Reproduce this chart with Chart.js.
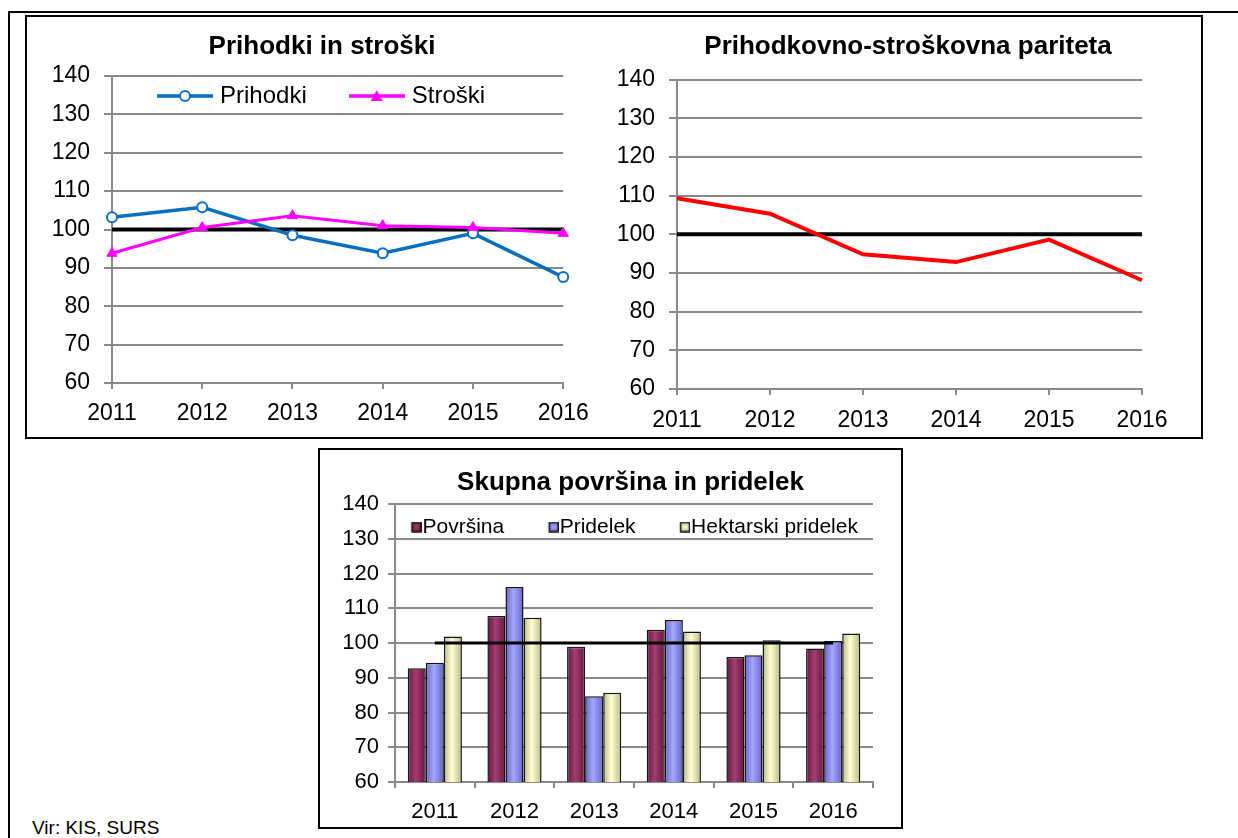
<!DOCTYPE html>
<html>
<head>
<meta charset="utf-8">
<title>Prihodki, stroški, površina in pridelek</title>
<script src="https://cdn.jsdelivr.net/npm/chart.js@4.4.1/dist/chart.umd.min.js"></script>
<style>
  html, body { margin: 0; padding: 0; background: #fff; }
  body { position: relative; width: 1238px; height: 838px; overflow: hidden;
         font-family: 'Liberation Sans', Arial, sans-serif; }
  .rule { position: absolute; background: #000; }
  .box { position: absolute; border: 2px solid #000; box-sizing: border-box; }
  canvas { position: absolute; }
  #source { position: absolute; left: 32px; top: 817px; font-size: 19px; line-height: 22px; color: #000; }
</style>
</head>
<body>
<div class="rule" style="left:8px;top:11px;width:1230px;height:2px"></div>
<div class="rule" style="left:8px;top:11px;width:2px;height:827px"></div>
<div class="box" style="left:25px;top:15px;width:1178px;height:424px"></div>
<div class="box" style="left:318px;top:448px;width:585px;height:381px"></div>

<canvas id="incomeCosts" width="574" height="422" style="left:26px;top:17px;width:574px;height:422px"></canvas>
<canvas id="parity" width="598" height="429" style="left:602px;top:17px;width:598px;height:429px"></canvas>
<canvas id="areaYield" width="581" height="385" style="left:320px;top:450px;width:581px;height:385px"></canvas>

<div id="source">Vir: KIS, SURS</div>

<script>
// ── data (indeksi, prejšnje leto = 100) ─────────────────
const years = ['2011', '2012', '2013', '2014', '2015', '2016'];
const baseline = [100, 100, 100, 100, 100, 100];

const prihodki = [103.2, 105.8, 98.5, 93.8, 99.0, 87.6];
const stroski = [93.8, 100.5, 103.6, 101.0, 100.5, 99.0];
const pariteta = [109.3, 105.3, 94.8, 92.8, 98.6, 88.1];

const povrsina = [92.7, 107.8, 98.9, 103.8, 96.0, 98.4];
const pridelek = [94.3, 116.1, 84.7, 106.6, 96.5, 100.6];
const hektarski = [101.9, 107.3, 85.7, 103.3, 100.8, 102.7];

const yMin = 60;
const yMax = 140;
const yStep = 10;

// ── shared look ─────────────────────────────────────────
Chart.defaults.font.family = "'Liberation Sans', Arial, sans-serif";
Chart.defaults.color = '#000';
Chart.defaults.animation = false;
Chart.defaults.events = [];
Chart.defaults.plugins.tooltip.enabled = false;

const GRID = '#8a8a8a';
const BLUE = '#0b6fbf';
const PINK = '#ff00ff';

function yAxis(fontSize, tick, pad, width) {
  return {
    min: yMin,
    max: yMax,
    ticks: { stepSize: yStep, font: { size: fontSize }, padding: pad },
    grid: { color: GRID, lineWidth: 2, tickLength: tick },
    border: { color: GRID, width: 2 },
    afterFit(scale) { scale.width = width; },
  };
}

function xAxis(fontSize, pad, extra) {
  return Object.assign({
    grid: { drawOnChartArea: false, color: GRID, lineWidth: 2, tickLength: 6 },
    border: { color: GRID, width: 2 },
    ticks: { font: { size: fontSize }, padding: pad, maxRotation: 0, autoSkip: false },
  }, extra || {});
}

function title(text, top, bottom) {
  return {
    display: true,
    text,
    font: { size: 26, weight: 'bold' },
    padding: { top, bottom },
  };
}

/**
 * Excel puts the title over the plot (not the canvas) and the legend
 * inside the plot area; nudge Chart.js' boxes there after layout.
 */
function placeBoxes(pos) {
  return {
    id: 'placeBoxes',
    afterLayout(chart) {
      const t = chart.titleBlock;
      if (t && pos.titleX !== undefined) {
        const dx = pos.titleX - (t.left + t.right) / 2;
        t.left += dx;
        t.right += dx;
      }
      const lg = chart.legend;
      if (lg && lg.lineWidths && pos.legendX !== undefined) {
        const pad = lg.options.labels.padding;
        const start = (lg.left + pad + lg.right - lg.lineWidths[0]) / 2;
        const dx = pos.legendX - start;
        lg.left += dx;
        lg.right += dx;
        lg.top = pos.legendY - pad - pos.legendFont / 2;
        lg.bottom = lg.top + pad * 2 + pos.legendFont + 10;
        lg.height = lg.bottom - lg.top;
      }
    },
  };
}

// legend samples: line with marker / bevelled box
function lineIcon(color, marker) {
  const c = document.createElement('canvas');
  c.width = 56; c.height = 16;
  const g = c.getContext('2d');
  g.strokeStyle = color;
  g.lineWidth = 3.5;
  g.beginPath(); g.moveTo(0, 8); g.lineTo(56, 8); g.stroke();
  if (marker === 'circle') {
    g.beginPath(); g.arc(28, 8, 5, 0, Math.PI * 2);
    g.fillStyle = '#fff'; g.fill();
    g.lineWidth = 2; g.stroke();
  } else {
    g.beginPath(); g.moveTo(28, 2); g.lineTo(34, 13); g.lineTo(22, 13); g.closePath();
    g.fillStyle = color; g.fill();
  }
  return c;
}

// 54px wide, the swatch sits in the right 10px so the text starts right after it
function boxIcon(shade) {
  const c = document.createElement('canvas');
  c.width = 54; c.height = 11;
  const g = c.getContext('2d');
  const grad = g.createRadialGradient(49, 5.5, 0, 49, 5.5, 6);
  grad.addColorStop(0, shade[1]);
  grad.addColorStop(1, shade[0]);
  g.fillStyle = grad;
  g.fillRect(44.5, 1, 9, 9);
  g.strokeStyle = '#111';
  g.lineWidth = 1.5;
  g.strokeRect(44.5, 1, 9, 9);
  return c;
}

function legendLabels(count, icons) {
  return (chart) => Chart.defaults.plugins.legend.labels.generateLabels(chart)
    .filter(item => item.datasetIndex < count)
    .sort((a, b) => a.datasetIndex - b.datasetIndex)
    .map(item => Object.assign(item, { pointStyle: icons[item.datasetIndex] }));
}

// bars get a dark-light-dark fill like the Excel bevel
const barShading = {
  id: 'barShading',
  beforeDatasetsDraw(chart) {
    const ctx = chart.ctx;
    chart.data.datasets.forEach((ds, i) => {
      if (!ds.shade) return;
      chart.getDatasetMeta(i).data.forEach(bar => {
        const half = bar.width / 2;
        const g = ctx.createLinearGradient(bar.x - half, 0, bar.x + half, 0);
        g.addColorStop(0, ds.shade[0]);
        g.addColorStop(0.45, ds.shade[1]);
        g.addColorStop(1, ds.shade[0]);
        bar.options = Object.assign({}, bar.options, { backgroundColor: g });
      });
    });
  },
};

// ── Prihodki in stroški ─────────────────────────────────
new Chart(document.getElementById('incomeCosts'), {
  type: 'line',
  data: {
    labels: years,
    datasets: [
      {
        label: 'Prihodki',
        data: prihodki,
        borderColor: BLUE,
        borderWidth: 3.5,
        pointStyle: 'circle',
        pointRadius: 5,
        pointBackgroundColor: '#fff',
        pointBorderColor: BLUE,
        pointBorderWidth: 2,
        clip: false,
        order: 1,
      },
      {
        label: 'Stroški',
        data: stroski,
        borderColor: PINK,
        borderWidth: 3,
        pointStyle: 'triangle',
        pointRadius: 6,
        pointBackgroundColor: PINK,
        pointBorderColor: PINK,
        pointBorderWidth: 1,
        clip: false,
        order: 0,
      },
      {
        label: '100',
        data: baseline,
        borderColor: '#000',
        borderWidth: 4,
        pointRadius: 0,
        order: 2,
      },
    ],
  },
  options: {
    responsive: false,
    layout: { padding: { left: 26, right: 28, top: 0, bottom: 0 } },
    plugins: {
      title: title('Prihodki in stroški', 14.4, 12.4),
      legend: {
        maxHeight: 1,
        labels: {
          font: { size: 24 },
          padding: 47,
          usePointStyle: true,
          pointStyleWidth: 46,
          generateLabels: legendLabels(2, [lineIcon(BLUE, 'circle'), lineIcon(PINK, 'triangle')]),
        },
      },
    },
    scales: {
      x: xAxis(23, 11.2, { offset: false }),
      y: yAxis(23, 8, 14, 60),
    },
  },
  plugins: [placeBoxes({ titleX: 296, legendX: 136, legendY: 79, legendFont: 24 })],
});

// ── Prihodkovno-stroškovna pariteta ─────────────────────
new Chart(document.getElementById('parity'), {
  type: 'line',
  data: {
    labels: years,
    datasets: [
      {
        label: 'Pariteta',
        data: pariteta,
        borderColor: '#ff0000',
        borderWidth: 4,
        pointRadius: 0,
        clip: false,
      },
      {
        label: '100',
        data: baseline,
        borderColor: '#000',
        borderWidth: 4,
        pointRadius: 0,
      },
    ],
  },
  options: {
    responsive: false,
    layout: { padding: { left: 15, right: 58, top: 0, bottom: 0 } },
    plugins: {
      title: title('Prihodkovno-stroškovna pariteta', 14.4, 16.9),
      legend: { display: false },
    },
    scales: {
      x: xAxis(23, 11.7, { offset: false }),
      y: yAxis(23, 8, 14, 60),
    },
  },
  plugins: [placeBoxes({ titleX: 306 })],
});

// ── Skupna površina in pridelek ─────────────────────────
const shades = {
  povrsina: ['#5e1a3c', '#a63c70'],
  pridelek: ['#6464c8', '#a6a6ff'],
  hektarski: ['#b9b98c', '#ffffd2'],
};

new Chart(document.getElementById('areaYield'), {
  type: 'bar',
  data: {
    labels: years,
    datasets: [
      { label: 'Površina', data: povrsina, backgroundColor: '#993366', shade: shades.povrsina },
      { label: 'Pridelek', data: pridelek, backgroundColor: '#9999ff', shade: shades.pridelek },
      { label: 'Hektarski pridelek', data: hektarski, backgroundColor: '#ffffcc', shade: shades.hektarski },
      {
        type: 'line',
        label: '100',
        data: baseline,
        borderColor: '#000',
        borderWidth: 3,
        pointRadius: 0,
        order: -1,
      },
    ].map(ds => ds.type ? ds : Object.assign(ds, {
      borderColor: '#151515',
      borderWidth: 1.5,
      categoryPercentage: 0.68,
      barPercentage: 1,
    })),
  },
  options: {
    responsive: false,
    layout: { padding: { left: 22, right: 28, top: 0, bottom: 0 } },
    plugins: {
      title: title('Skupna površina in pridelek', 17.4, 4.4),
      legend: {
        maxHeight: 1,
        labels: {
          font: { size: 21 },
          padding: 10,
          usePointStyle: true,
          pointStyleWidth: 35,
          generateLabels: legendLabels(3, [
            boxIcon(shades.povrsina), boxIcon(shades.pridelek), boxIcon(shades.hektarski),
          ]),
        },
      },
    },
    scales: {
      x: xAxis(22, 10.3),
      y: yAxis(22, 7, 9, 53),
    },
  },
  plugins: [barShading, placeBoxes({ titleX: 310.5, legendX: 57, legendY: 77, legendFont: 21 })],
});
</script>
</body>
</html>
